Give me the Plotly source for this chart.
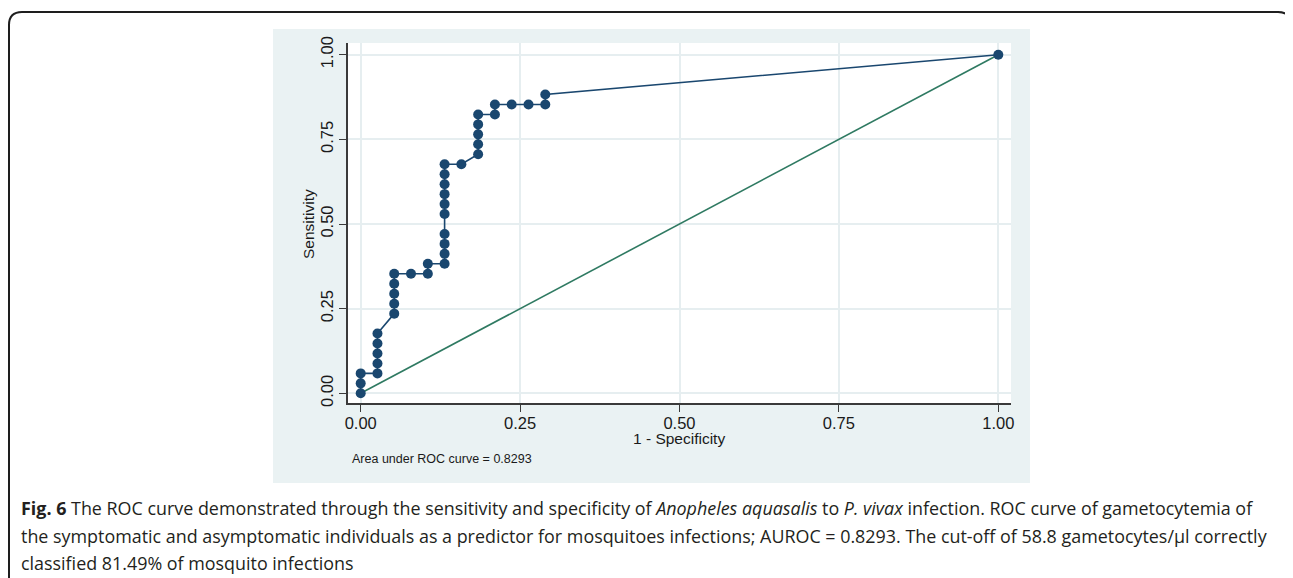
import plotly.graph_objects as go

# ---- data ----
fpr = [0.0, 0.0, 0.0, 0.0263, 0.0263, 0.0263, 0.0263, 0.0263, 0.0526, 0.0526,
       0.0526, 0.0526, 0.0526, 0.0789, 0.1053, 0.1053, 0.1316, 0.1316, 0.1316, 0.1316,
       0.1316, 0.1316, 0.1316, 0.1316, 0.1316, 0.1316, 0.1579, 0.1842, 0.1842, 0.1842,
       0.1842, 0.1842, 0.2105, 0.2105, 0.2368, 0.2632, 0.2895, 0.2895, 1.0]
tpr = [0.0, 0.0294, 0.0588, 0.0588, 0.0882, 0.1176, 0.1471, 0.1765, 0.2353, 0.2647,
       0.2941, 0.3235, 0.3529, 0.3529, 0.3529, 0.3824, 0.3824, 0.4118, 0.4412, 0.4706,
       0.5294, 0.5588, 0.5882, 0.6176, 0.6471, 0.6765, 0.6765, 0.7059, 0.7353, 0.7647,
       0.7941, 0.8235, 0.8235, 0.8529, 0.8529, 0.8529, 0.8529, 0.8824, 1.0]
ref_x = [0.0, 1.0]
ref_y = [0.0, 1.0]
tick_vals = [0.0, 0.25, 0.5, 0.75, 1.0]
tick_text = ["0.00", "0.25", "0.50", "0.75", "1.00"]
auc_text = "Area under ROC curve = 0.8293"
caption_lines = [
    "<b>Fig. 6</b> The ROC curve demonstrated through the sensitivity and specificity of "
    "<i>Anopheles aquasalis</i> to <i>P. vivax</i> infection. ROC curve of gametocytemia of",
    "the symptomatic and asymptomatic individuals as a predictor for mosquitoes infections; "
    "AUROC = 0.8293. The cut-off of 58.8 gametocytes/\u00b5l correctly",
    "classified 81.49% of mosquito infections",
]

# ---- layout geometry (pixels in the 1293x578 window) ----
OFF = 8                      # page body margin added by the browser
W, H = 1293 - OFF, 578 - OFF
L, R, T, B = 348, 1011, 43, 403


def px(X):
    return (X - L) / (R - L)


def py(Y):
    return (B - Y) / (B - T)


NAVY = "#1a476f"
GREEN = "#2f7a62"
GRID = "#e6eef0"
PANEL = "#eaf2f3"
AX = "#3a3a3a"

fig = go.Figure()
fig.add_trace(go.Scatter(x=ref_x, y=ref_y, mode="lines",
                         line=dict(color=GREEN, width=1.6), hoverinfo="skip"))
fig.add_trace(go.Scatter(x=fpr, y=tpr, mode="lines+markers",
                         line=dict(color=NAVY, width=1.6),
                         marker=dict(color=NAVY, size=10)))

shapes = [
    dict(type="rect", xref="paper", yref="paper", x0=px(273), x1=px(1030),
         y0=py(483), y1=py(29), fillcolor=PANEL, line=dict(width=0), layer="below"),
    dict(type="rect", xref="paper", yref="paper", x0=0, x1=1, y0=0, y1=1,
         fillcolor="white", line=dict(width=0), layer="below"),
]
# outer rounded border
r = 13
xl, xr, yt, yb = 9, 1291, 12, 600
path = (f"M {px(xl)} {py(yb)} L {px(xl)} {py(yt + r)} "
        f"Q {px(xl)} {py(yt)} {px(xl + r)} {py(yt)} "
        f"L {px(xr - r)} {py(yt)} Q {px(xr)} {py(yt)} {px(xr)} {py(yt + r)} "
        f"L {px(xr)} {py(yb)}")
shapes.append(dict(type="path", xref="paper", yref="paper", path=path,
                   line=dict(color="#1e1e1e", width=2)))

annotations = [
    dict(text="Sensitivity", xref="paper", yref="paper", x=px(308), y=py(224),
         showarrow=False, textangle=-90, font=dict(family="Liberation Sans, Arial", size=15.5, color="#1a1a1a"),
         xanchor="center", yanchor="middle"),
    dict(text="1 - Specificity", xref="paper", yref="paper", x=px(679), y=py(438),
         showarrow=False, font=dict(family="Liberation Sans, Arial", size=15.5, color="#1a1a1a"),
         xanchor="center", yanchor="middle"),
    dict(text=auc_text, xref="paper", yref="paper", x=px(350), y=py(459),
         showarrow=False, font=dict(family="Liberation Sans, Arial", size=12.5, color="#1a1a1a"),
         xanchor="left", yanchor="middle"),
]
cap_y = [508, 536, 563]
for line, yy in zip(caption_lines, cap_y):
    annotations.append(dict(text=line, xref="paper", yref="paper", x=px(19), y=py(yy),
                            showarrow=False, xanchor="left", yanchor="middle",
                            font=dict(family="Open Sans", size=17.9, color="#231f20")))

axis_common = dict(
    tickvals=tick_vals, ticktext=tick_text, showgrid=True, gridcolor=GRID, gridwidth=1.5,
    zeroline=False, showline=True, linecolor=AX, linewidth=1.5,
    ticks="outside", ticklen=7, tickwidth=1.3, tickcolor=AX,
    tickfont=dict(family="Liberation Sans, Arial", size=16.5, color="#1a1a1a"),
    fixedrange=True,
)

fig.update_layout(
    width=W, height=H,
    margin=dict(l=L - OFF, r=1293 - R, t=T - OFF, b=578 - B, pad=0),
    paper_bgcolor="white", plot_bgcolor="white",
    showlegend=False,
    xaxis=dict(range=[-0.0199, 1.0199], ticklabelstandoff=-3, **axis_common),
    yaxis=dict(range=[-0.0286, 1.0345], tickangle=-90, **axis_common),
    shapes=shapes, annotations=annotations,
)

fig.write_html("out.html")
